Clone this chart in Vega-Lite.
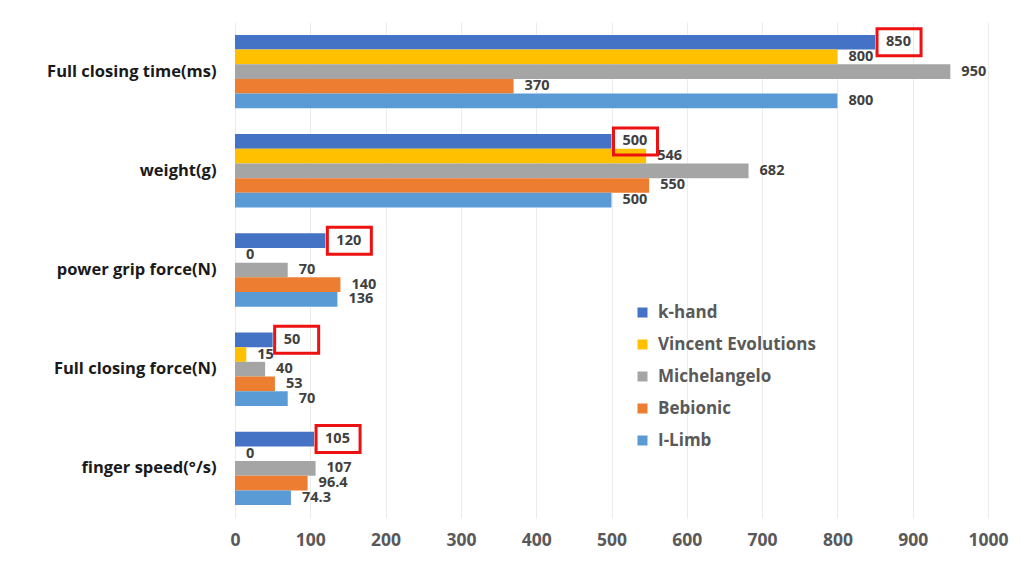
{
  "$schema": "https://vega.github.io/schema/vega-lite/v6.json",
  "width": 753,
  "height": 496,
  "autosize": {"type": "none"},
  "padding": {"left": 235, "top": 22, "right": 48, "bottom": 50},
  "background": "white",
  "config": {
    "font": "Open Sans",
    "view": {"stroke": null},
    "axis": {"grid": false, "domain": false, "ticks": false}
  },
  "data": {
    "values": [
      {"metric": "Full closing time(ms)", "hand": "k-hand", "value": 850},
      {"metric": "Full closing time(ms)", "hand": "Vincent Evolutions", "value": 800},
      {"metric": "Full closing time(ms)", "hand": "Michelangelo", "value": 950},
      {"metric": "Full closing time(ms)", "hand": "Bebionic", "value": 370},
      {"metric": "Full closing time(ms)", "hand": "I-Limb", "value": 800},
      {"metric": "weight(g)", "hand": "k-hand", "value": 500},
      {"metric": "weight(g)", "hand": "Vincent Evolutions", "value": 546},
      {"metric": "weight(g)", "hand": "Michelangelo", "value": 682},
      {"metric": "weight(g)", "hand": "Bebionic", "value": 550},
      {"metric": "weight(g)", "hand": "I-Limb", "value": 500},
      {"metric": "power grip force(N)", "hand": "k-hand", "value": 120},
      {"metric": "power grip force(N)", "hand": "Vincent Evolutions", "value": 0},
      {"metric": "power grip force(N)", "hand": "Michelangelo", "value": 70},
      {"metric": "power grip force(N)", "hand": "Bebionic", "value": 140},
      {"metric": "power grip force(N)", "hand": "I-Limb", "value": 136},
      {"metric": "Full closing force(N)", "hand": "k-hand", "value": 50},
      {"metric": "Full closing force(N)", "hand": "Vincent Evolutions", "value": 15},
      {"metric": "Full closing force(N)", "hand": "Michelangelo", "value": 40},
      {"metric": "Full closing force(N)", "hand": "Bebionic", "value": 53},
      {"metric": "Full closing force(N)", "hand": "I-Limb", "value": 70},
      {"metric": "finger speed(°/s)", "hand": "k-hand", "value": 105},
      {"metric": "finger speed(°/s)", "hand": "Vincent Evolutions", "value": 0},
      {"metric": "finger speed(°/s)", "hand": "Michelangelo", "value": 107},
      {"metric": "finger speed(°/s)", "hand": "Bebionic", "value": 96.4},
      {"metric": "finger speed(°/s)", "hand": "I-Limb", "value": 74.3}
    ]
  },
  "encoding": {
    "y": {
      "field": "metric",
      "type": "nominal",
      "sort": ["Full closing time(ms)", "weight(g)", "power grip force(N)", "Full closing force(N)", "finger speed(°/s)"],
      "scale": {"paddingInner": 0.26, "paddingOuter": 0.13},
      "axis": {
        "title": null,
        "labelFontSize": 16.5,
        "labelFontWeight": "bold",
        "labelColor": "#1a1a1a",
        "labelPadding": 19,
        "labelLimit": 300
      }
    },
    "yOffset": {
      "field": "hand",
      "type": "nominal",
      "sort": ["k-hand", "Vincent Evolutions", "Michelangelo", "Bebionic", "I-Limb"],
      "scale": {"paddingInner": 0, "paddingOuter": 0}
    },
    "x": {
      "field": "value",
      "type": "quantitative",
      "scale": {"domain": [0, 1000], "nice": false},
      "axis": {
        "title": null,
        "values": [0, 100, 200, 300, 400, 500, 600, 700, 800, 900, 1000],
        "format": "d",
        "grid": true,
        "gridColor": "#ebebeb",
        "gridWidth": 1,
        "labelFontSize": 17.5,
        "labelFontWeight": "bold",
        "labelColor": "#595959",
        "labelPadding": 13,
        "labelFlush": false,
        "labelOverlap": false
      }
    }
  },
  "layer": [
    {
      "mark": {"type": "bar"},
      "encoding": {
        "color": {
          "field": "hand",
          "type": "nominal",
          "scale": {
            "domain": ["k-hand", "Vincent Evolutions", "Michelangelo", "Bebionic", "I-Limb"],
            "range": ["#4472C4", "#FFC000", "#A5A5A5", "#ED7D31", "#5B9BD5"]
          },
          "legend": {
            "title": null,
            "orient": "none",
            "legendX": 399,
            "legendY": 282,
            "symbolType": "square",
            "symbolSize": 100,
            "symbolStrokeWidth": 0,
            "labelFontSize": 17,
            "labelFontWeight": "bold",
            "labelColor": "#595959",
            "labelOffset": 7,
            "rowPadding": 14,
            "padding": 0,
            "labelLimit": 300
          }
        }
      }
    },
    {
      "mark": {"type": "text", "align": "left", "baseline": "middle", "dx": 11, "fontSize": 14.5, "fontWeight": "bold", "color": "#404040"},
      "encoding": {"text": {"field": "value", "type": "quantitative"}}
    },
    {
      "transform": [{"filter": "datum.hand === 'k-hand'"}],
      "mark": {
        "type": "point",
        "shape": "M0.2,-1.35H4.6V1.35H0.2Z",
        "size": 400,
        "filled": false,
        "stroke": "#ee1111",
        "strokeWidth": 3,
        "opacity": 1
      },
      "encoding": {}
    }
  ]
}
